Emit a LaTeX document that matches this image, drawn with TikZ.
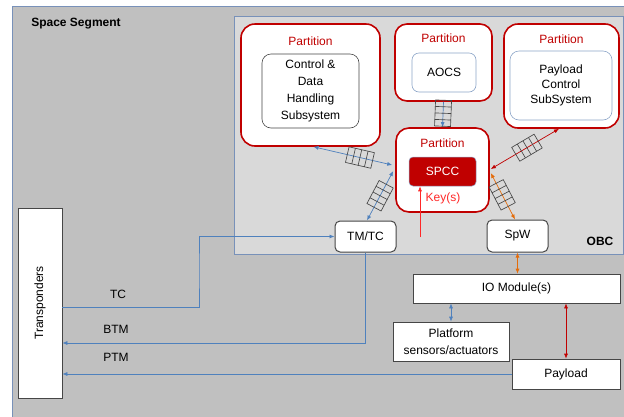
\documentclass[tikz,border=0pt]{standalone}
\usepackage{fontspec}
\setmainfont{Liberation Sans}
\usetikzlibrary{arrows.meta,calc}

\definecolor{segfill}{RGB}{192,192,192}
\definecolor{obcfill}{RGB}{217,217,217}
\definecolor{frameblue}{RGB}{120,145,185}
\definecolor{linkblue}{RGB}{79,129,189}
\definecolor{partred}{RGB}{192,0,0}
\definecolor{keyred}{RGB}{255,40,40}
\definecolor{linkorange}{RGB}{228,108,10}
\definecolor{boxgray}{RGB}{70,70,70}
\definecolor{innerblue}{RGB}{140,165,200}

\tikzset{
  txt/.style={font=\fontsize{12}{14}\selectfont},
  part/.style={draw=partred, line width=1.6pt, fill=white, rounded corners=14pt, inner sep=0pt},
  plabel/.style={txt, text=partred, inner sep=0pt},
  innerbox/.style={fill=white, rounded corners=9pt, inner sep=0pt, align=center, line width=0.6pt},
  portbox/.style={draw=boxgray, fill=white, rounded corners=5pt, line width=1pt, inner sep=0pt, txt},
  plainbox/.style={draw=boxgray, fill=white, line width=0.7pt, inner sep=0pt, align=center, txt},
  link/.style={line width=0.7pt, -{Latex[length=5pt,width=4pt]}},
  dlink/.style={line width=0.7pt, {Latex[length=5pt,width=4pt]}-{Latex[length=5pt,width=4pt]}},
  queue/.pic={
    \draw[boxgray, line width=0.65pt] (-13,-8) rectangle (13,8);
    \foreach \u in {-6.5,0,6.5} \draw[boxgray, line width=0.65pt] (\u,-8) -- (\u,8);
  }
}

\begin{document}
\begin{tikzpicture}[x=1pt,y=-1pt]
\useasboundingbox (0,0) rectangle (624,416);
\fill[white] (0,0) rectangle (624,416);

% space segment and on-board computer frames
\draw[frameblue, fill=segfill, line width=0.6pt] (12,6) rectangle (640,430);
\node[txt, font=\fontsize{12}{14}\selectfont\bfseries, inner sep=0pt] (seglabel) at (76,24) {Space Segment};
\draw[frameblue, fill=obcfill, line width=0.6pt] (234,16) rectangle (623,254);
\node[txt, font=\fontsize{12}{14}\selectfont\bfseries, inner sep=0pt] (obclabel) at (600,241) {OBC};

% partitions
\node[part, minimum width=139pt, minimum height=122pt] (cdhp) at (310.5,85) {};
\node[plabel] (cdhl) at (310.5,41) {Partition};
\node[innerbox, draw=boxgray, minimum width=97pt, minimum height=74pt,
      font=\fontsize{12}{17}\selectfont] (cdh) at (310.5,91)
  {Control \&\\Data\\Handling\\Subsystem};

\node[part, rounded corners=12pt, minimum width=97pt, minimum height=77pt] (aocsp) at (443.5,62.5) {};
\node[plabel] (aocsl) at (443.5,38) {Partition};
\node[innerbox, draw=innerblue, rounded corners=7pt, minimum width=64pt, minimum height=39pt, txt] (aocs) at (444,72.5) {AOCS};

\node[part, minimum width=115pt, minimum height=104pt] (plp) at (561.5,76) {};
\node[plabel] (plpl) at (561.5,39) {Partition};
\node[innerbox, draw=innerblue, minimum width=102pt, minimum height=69pt,
      font=\fontsize{12}{15}\selectfont] (pl) at (561,85.5)
  {Payload\\Control\\SubSystem};

\node[part, rounded corners=13pt, minimum width=93pt, minimum height=84pt] (spccp) at (442.5,170) {};
\node[plabel] (spccl) at (442.5,143) {Partition};
\node[fill=partred, draw=innerblue, line width=0.5pt, rounded corners=4pt, minimum width=67pt, minimum height=29pt,
      inner sep=0pt, txt, text=white] (spcc) at (442.5,171.5) {SPCC};
\node[txt, text=keyred, inner sep=0pt] (keys) at (443,198) {Key(s)};

% interfaces of the OBC
\node[portbox, minimum width=61pt, minimum height=31pt] (tmtc) at (365.5,236.5) {TM/TC};
\node[portbox, minimum width=61pt, minimum height=32pt] (spw) at (517.5,236) {SpW};

% equipment outside the OBC
\node[plainbox, minimum width=207pt, minimum height=29pt] (io) at (516.5,288.5) {IO Module(s)};
\node[plainbox, minimum width=116pt, minimum height=39pt, font=\fontsize{12}{17}\selectfont] (plat) at (451,341.5) {Platform\\sensors/actuators};
\node[plainbox, minimum width=108pt, minimum height=30pt] (pay) at (566,374) {Payload};
\node[plainbox, minimum width=44pt, minimum height=190pt] (trans) at (40,303) {};
\node[txt, rotate=90, inner sep=0pt] (transl) at (40,303) {Transponders};

% links between partitions, with message queues
\draw[dlink, linkblue] ([xshift=3pt]cdhp.south) -- ([yshift=5pt,xshift=-3pt]spccp.west);
\path ([xshift=3pt]cdhp.south) -- ([yshift=5pt,xshift=-3pt]spccp.west) pic[pos=0.59, sloped]{queue};

\draw[dlink, linkblue] ([xshift=1.5pt]tmtc.north) -- ([yshift=-1pt,xshift=-2pt]spccp.west);
\path ([xshift=1.5pt]tmtc.north) -- ([yshift=-1pt,xshift=-2pt]spccp.west) pic[pos=0.5, sloped]{queue};

\draw[link, linkblue] (aocsp.south) -- (spccp.north);
\path (aocsp.south) -- (spccp.north) pic[pos=0.45, sloped]{queue};

\draw[dlink, partred] ([xshift=-2.5pt]plp.south) -- ([yshift=1pt,xshift=1pt]spccp.east);
\path ([xshift=-2.5pt]plp.south) -- ([yshift=1pt,xshift=1pt]spccp.east) pic[pos=0.47, sloped]{queue};

\draw[dlink, linkorange] ([yshift=-3pt,xshift=1pt]spccp.east) -- ([xshift=-2.5pt]spw.north);
\path ([yshift=-3pt,xshift=1pt]spccp.east) -- ([xshift=-2.5pt]spw.north) pic[pos=0.47, sloped]{queue};

% key loading into the SPCC
\coordinate (keyfoot) at (420,237);
\draw[link, keyred] (keyfoot) -- (keyfoot |- spcc.south);

% links outside the OBC
\draw[dlink, linkorange] (spw.south) -- (spw.south |- io.north);
\draw[dlink, linkblue] (plat.north) -- (plat.north |- io.south);
\draw[dlink, partred] (pay.north) -- (pay.north |- io.south);

% telecommand and telemetry paths
\coordinate (tcbend) at (199,270);
\draw[link, linkblue] ([yshift=-4pt]trans.east) -| (tcbend) |- (tmtc.west);
\draw[link, linkblue] (tmtc.south) |- ([yshift=-40pt]trans.east);
\draw[link, linkblue] (pay.west) -- (pay.west -| trans.east);

\node[txt, inner sep=0pt] (tclabel) at (118,294) {TC};
\node[txt, inner sep=0pt] (btmlabel) at (116,329) {BTM};
\node[txt, inner sep=0pt] (ptmlabel) at (116,357) {PTM};
\end{tikzpicture}
\end{document}
